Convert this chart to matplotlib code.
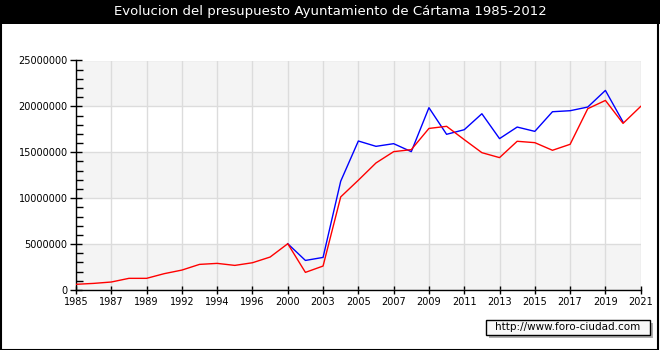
import numpy as np
import matplotlib
matplotlib.use('Agg')
import matplotlib.pyplot as plt
from matplotlib.patches import Rectangle
from matplotlib.ticker import MultipleLocator

# years shown on the axis (categorical, evenly spaced)
years = [1985, 1986, 1987, 1988, 1989, 1990, 1992, 1993, 1994, 1995, 1996, 1998,
         2000, 2002, 2003, 2004, 2005, 2006, 2007, 2008, 2009, 2010, 2011, 2012,
         2013, 2014, 2015, 2016, 2017, 2018, 2019, 2020, 2021]

# red series (in millions)
red_m = [0.62, 0.72, 0.87, 1.27, 1.27, 1.78, 2.17, 2.79, 2.90, 2.68, 2.97, 3.59,
         5.04, 1.92, 2.61, 10.14, 11.96, 13.84, 15.07, 15.29, 17.60, 17.83, 16.38, 14.96,
         14.42, 16.20, 16.05, 15.22, 15.87, 19.75, 20.65, 18.15, 20.00]

# blue series (in millions), starts in 2000, ends in 2020
blue_m = [None] * 12 + [5.04, 3.22, 3.55, 11.85, 16.23, 15.65, 15.94, 15.07, 19.86, 16.96,
                        17.46, 19.20, 16.49, 17.75, 17.28, 19.42, 19.53, 19.93, 21.74, 18.30, None]

title = "Evolucion del presupuesto Ayuntamiento de Cártama 1985-2012"
url = "http://www.foro-ciudad.com"

W, H = 660, 350
fig = plt.figure(figsize=(W / 100, H / 100), dpi=100)
fig.patch.set_facecolor('white')

# title bar + frame
fig.patches.append(Rectangle((0, 1 - 24 / H), 1, 24 / H, transform=fig.transFigure,
                             facecolor='black', edgecolor='none', zorder=0))
fig.patches.append(Rectangle((0.5 / W, 0.5 / H), 1 - 2.5 / W, 1 - 1 / H, transform=fig.transFigure,
                             facecolor='none', edgecolor='black', linewidth=1.5, zorder=5))
fig.text(0.5, 1 - 12 / H, title, color='white', ha='center', va='center', fontsize=9.5)

left, right, top, bottom = 76, 640.7, 60.5, 290
ax = fig.add_axes([left / W, 1 - bottom / H, (right - left) / W, (bottom - top) / H])

x = np.arange(len(years))
red = np.array(red_m) * 1e6
blue = np.array([np.nan if v is None else v * 1e6 for v in blue_m])

# alternating bands
for i, y0 in enumerate(range(0, 25000000, 5000000)):
    if i % 2 == 0:
        ax.axhspan(y0, y0 + 5000000, color='#f4f4f4', zorder=0, lw=0)

ax.plot(x, blue, color='#0000ff', lw=1, zorder=3)
ax.plot(x, red, color='#ff0000', lw=1, zorder=4)

ax.set_xlim(0, len(years) - 1)
ax.set_ylim(0, 25000000)
ax.set_xticks(x[::2])
ax.set_xticklabels([str(y) for y in years[::2]])
ax.yaxis.set_major_locator(MultipleLocator(5000000))
ax.yaxis.set_minor_locator(MultipleLocator(1000000))
ax.set_yticklabels([str(int(v)) for v in ax.get_yticks()])
ax.grid(True, which='major', color='#dcdcdc', lw=1, zorder=1)
ax.set_axisbelow(True)

for s in ['top', 'right']:
    ax.spines[s].set_visible(False)
for s in ['left', 'bottom']:
    ax.spines[s].set_color('black')
    ax.spines[s].set_linewidth(1)

ax.tick_params(axis='y', which='major', direction='inout', length=8, width=1, labelsize=7, pad=2)
ax.tick_params(axis='y', which='minor', direction='in', length=5, width=1)
ax.tick_params(axis='x', which='major', direction='inout', length=6, width=1, labelsize=7, pad=2)

# url box with shadow
fig.patches.append(Rectangle((489 / W, 1 - 338 / H), 164 / W, 15 / H, transform=fig.transFigure,
                             facecolor='#b0b0b0', edgecolor='none', zorder=2))
fig.patches.append(Rectangle((486 / W, 1 - 335 / H), 164 / W, 15 / H, transform=fig.transFigure,
                             facecolor='#f8f8f8', edgecolor='black', linewidth=1, zorder=3))
fig.text(568 / W, 1 - 327.5 / H, url, ha='center', va='center', fontsize=7.5, zorder=4)

fig.savefig('out.png', dpi=100)
